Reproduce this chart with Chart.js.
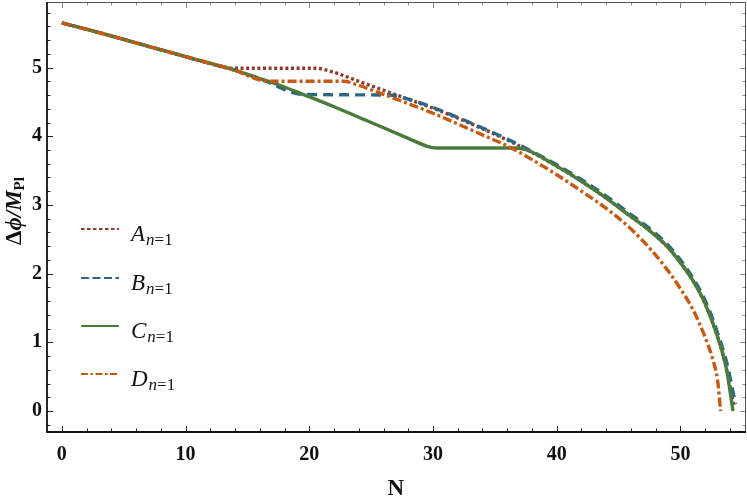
<!DOCTYPE html>
<html>
<head>
<meta charset="utf-8">
<script src="https://cdn.jsdelivr.net/npm/chart.js@4.4.1/dist/chart.umd.min.js"></script>
<style>
  html, body { margin: 0; padding: 0; background: #fff; }
  #wrap { width: 747px; height: 500px; position: relative; }
</style>
</head>
<body>
<div id="wrap"><canvas id="chart"></canvas></div>
<script>
// Datos: N (e-folds) y Δφ/M_Pl
const xTicks = [0, 10, 20, 30, 40, 50];
const yTicks = [0, 1, 2, 3, 4, 5];

const nA = [0, 3, 6, 9, 12, 13.6, 17, 20.5, 22, 24, 26, 28, 30, 32, 34, 36, 38, 40, 42, 44, 46, 47, 48, 49, 50, 51, 52, 53, 53.7, 54.3];
const vA = [5.65, 5.51, 5.36, 5.21, 5.06, 4.99, 4.99, 4.99, 4.93, 4.80, 4.67, 4.54, 4.41, 4.265, 4.11, 3.945, 3.765, 3.565, 3.345, 3.10, 2.83, 2.70, 2.55, 2.38, 2.16, 1.90, 1.56, 1.08, 0.63, 0.08];

const nB = [0, 3, 6, 9, 12, 13.5, 16, 19.5, 26.4, 28, 30, 32, 34, 36, 38, 40, 42, 44, 46, 47, 48, 49, 50, 51, 52, 53, 53.8, 54.45];
const vB = [5.65, 5.51, 5.36, 5.21, 5.06, 4.99, 4.84, 4.61, 4.60, 4.54, 4.42, 4.275, 4.12, 3.96, 3.78, 3.585, 3.37, 3.13, 2.86, 2.73, 2.585, 2.415, 2.20, 1.94, 1.61, 1.14, 0.66, 0.10];

const nC = [0, 3, 6, 9, 12, 13.5, 16, 17.5, 19.5, 22, 25, 28, 29.6, 30.3, 36.6, 37.6, 40, 42, 44, 46, 47, 48, 49, 50, 51, 52, 53, 53.7, 54.25];
const vC = [5.65, 5.51, 5.36, 5.21, 5.06, 4.99, 4.84, 4.75, 4.61, 4.43, 4.20, 3.97, 3.85, 3.83, 3.83, 3.80, 3.565, 3.345, 3.10, 2.83, 2.70, 2.55, 2.38, 2.16, 1.90, 1.56, 1.08, 0.63, 0.0];

const nD = [0, 3, 6, 9, 12, 13.5, 16.8, 22.8, 24, 26, 28, 30, 32, 34, 36, 38, 40, 42, 44, 46, 48, 49, 50, 51, 52, 52.6, 53, 53.25];
const vD = [5.65, 5.51, 5.36, 5.21, 5.06, 4.99, 4.80, 4.80, 4.74, 4.61, 4.475, 4.335, 4.18, 4.02, 3.86, 3.66, 3.44, 3.20, 2.95, 2.65, 2.27, 2.04, 1.78, 1.48, 1.07, 0.76, 0.45, 0.0];

const etiquetas = ['A', 'B', 'C', 'D'];
const colores = ['#8e3b2c', '#2f6686', '#4a7a3c', '#c75a13'];

function puntos(ns, vs) {
    return ns.map((n, i) => ({ x: n, y: vs[i] }));
}

const estilos = [
    { dash: [3, 2.6], width: 3.4, legendDash: [3.5, 2.5] },
    { dash: [10, 6], width: 3.4, legendDash: [8, 3.5] },
    { dash: [], width: 3.4, legendDash: [] },
    { dash: [9, 3, 3, 3], width: 3.4, legendDash: [7, 2.5, 2.5, 2.5] }
];

const series = [puntos(nA, vA), puntos(nB, vB), puntos(nC, vC), puntos(nD, vD)];

const SERIF = '"Liberation Serif", "DejaVu Serif", serif';

// marco, marcas de los ejes, leyenda y títulos
const decoracion = {
    id: 'decoracion',
    afterDraw(chart) {
        const ctx = chart.ctx;
        const a = chart.chartArea;
        const xs = chart.scales.x;
        const ys = chart.scales.y;
        ctx.save();

        const marca = (x1, y1, x2, y2, color) => {
            ctx.strokeStyle = color;
            ctx.beginPath();
            ctx.moveTo(x1, y1);
            ctx.lineTo(x2, y2);
            ctx.stroke();
        };
        ctx.lineWidth = 1;
        for (let n = 0; n <= 54; n += 2) {
            const px = Math.round(xs.getPixelForValue(n)) + 0.5;
            const l = n % 10 === 0 ? 6 : 3.5;
            marca(px, a.bottom, px, a.bottom - l, '#222');
            marca(px, a.top, px, a.top + l, '#888');
        }
        for (let k = -1; k <= 29; k++) {
            const py = Math.round(ys.getPixelForValue(k * 0.2)) + 0.5;
            const l = k % 5 === 0 ? 6 : 3.5;
            marca(a.left, py, a.left + l, py, '#222');
            marca(a.right, py, a.right - l, py, '#888');
        }

        // marco
        ctx.lineWidth = 1;
        ctx.strokeStyle = '#555';
        ctx.beginPath();
        ctx.moveTo(a.left, a.top + 0.5);
        ctx.lineTo(a.right - 0.5, a.top + 0.5);
        ctx.lineTo(a.right - 0.5, a.bottom);
        ctx.stroke();
        ctx.lineWidth = 1.8;
        ctx.strokeStyle = '#111';
        ctx.beginPath();
        ctx.moveTo(a.left, a.top);
        ctx.lineTo(a.left, a.bottom);
        ctx.lineTo(a.right, a.bottom);
        ctx.stroke();

        // leyenda
        const ly = [229, 278, 326, 374];
        etiquetas.forEach((et, i) => {
            const y = ly[i];
            ctx.strokeStyle = colores[i];
            ctx.lineWidth = 2;
            ctx.setLineDash(estilos[i].legendDash);
            ctx.beginPath();
            ctx.moveTo(81, y);
            ctx.lineTo(119, y);
            ctx.stroke();
            ctx.setLineDash([]);
            ctx.fillStyle = '#111';
            ctx.textBaseline = 'alphabetic';
            ctx.textAlign = 'left';
            ctx.font = 'italic 23px ' + SERIF;
            ctx.fillText(et, 131, y + 12);
            const w = ctx.measureText(et).width;
            ctx.font = 'italic 17px ' + SERIF;
            ctx.fillText('n', 131 + w + 1, y + 16);
            const wn = ctx.measureText('n').width;
            ctx.font = '17px ' + SERIF;
            ctx.fillText('=1', 131 + w + 1 + wn, y + 16);
        });

        // título del eje y
        ctx.save();
        ctx.translate(21, 211);
        ctx.rotate(-Math.PI / 2);
        ctx.fillStyle = '#111';
        ctx.font = 'bold 23px ' + SERIF;
        const wd = ctx.measureText('Δ').width;
        ctx.font = 'bold italic 23px ' + SERIF;
        const wm = ctx.measureText('ϕ/M').width;
        ctx.font = 'bold 15px ' + SERIF;
        const wp = ctx.measureText('Pl').width;
        const x0 = -(wd + wm + wp) / 2;
        ctx.textAlign = 'left';
        ctx.font = 'bold 23px ' + SERIF;
        ctx.fillText('Δ', x0, 0);
        ctx.font = 'bold italic 23px ' + SERIF;
        ctx.fillText('ϕ/M', x0 + wd, 0);
        ctx.font = 'bold 15px ' + SERIF;
        ctx.fillText('Pl', x0 + wd + wm, 3);
        ctx.restore();

        // título del eje x
        ctx.font = 'bold 23px ' + SERIF;
        ctx.textAlign = 'center';
        ctx.fillStyle = '#111';
        ctx.fillText('N', xs.getPixelForValue(27), 495);

        ctx.restore();
    }
};

new Chart(document.getElementById('chart'), {
    type: 'line',
    data: {
        datasets: series.map((d, i) => ({
            label: etiquetas[i] + '_{n=1}',
            data: d,
            borderColor: colores[i],
            backgroundColor: colores[i],
            borderWidth: estilos[i].width,
            borderDash: estilos[i].dash,
            borderCapStyle: 'butt',
            pointRadius: 0,
            cubicInterpolationMode: 'monotone',
            fill: false
        })).reverse()
    },
    options: {
        responsive: true,
        maintainAspectRatio: false,
        animation: false,
        layout: { padding: { left: 0, right: 1, top: 2, bottom: 0 } },
        plugins: {
            legend: { display: false },
            tooltip: { enabled: false }
        },
        scales: {
            x: {
                type: 'linear',
                min: -1.2,
                max: 55.3,
                grid: { display: false, drawTicks: false },
                border: { display: false },
                afterBuildTicks: s => { s.ticks = xTicks.map(v => ({ value: v })); },
                afterFit: s => { s.height = 68; s.paddingLeft = 0; s.paddingRight = 0; },
                ticks: {
                    padding: 11,
                    color: '#111',
                    font: { family: SERIF, size: 20, weight: 'bold' },
                    callback: v => String(v)
                }
            },
            y: {
                type: 'linear',
                min: -0.306,
                max: 5.955,
                grid: { display: false, drawTicks: false },
                border: { display: false },
                afterBuildTicks: s => { s.ticks = yTicks.map(v => ({ value: v })); },
                afterFit: s => { s.width = 47; s.paddingTop = 0; s.paddingBottom = 0; },
                ticks: {
                    padding: 5,
                    color: '#111',
                    font: { family: SERIF, size: 20, weight: 'bold' },
                    callback: v => String(v)
                }
            }
        }
    },
    plugins: [decoracion]
});
</script>
</body>
</html>
